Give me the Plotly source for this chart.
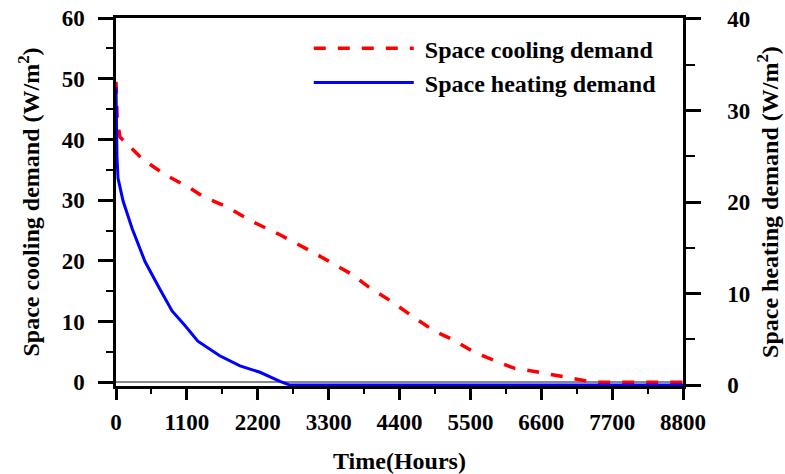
import plotly.graph_objects as go

# Data
hours_cool = [0, 20, 62, 420, 760, 1040, 1150, 1350, 1650, 1740, 2110, 2545, 3060, 3430,
              3660, 3910, 4280, 4610, 4950, 5215, 5570, 5990, 6190, 6500, 6735, 6940,
              7170, 7390, 7600, 8800]
cool = [49.5, 43, 40.4, 36.7, 34.2, 32.6, 32, 30.6, 29.3, 28.8, 26.5, 24.3, 21.4, 19.1,
        17.8, 15.8, 13.3, 10.8, 8.4, 7.1, 4.9, 3.1, 2.3, 1.8, 1.3, 1.0,
        0.5, 0.05, 0, 0]

hours_heat = [0, 5, 15, 31, 110, 250, 450, 680, 870, 1070, 1270, 1610, 1925, 2235, 2545, 2700, 8800]
heat = [32.5, 28.5, 25, 22.6, 20.1, 17.1, 13.5, 10.5, 8.1, 6.5, 4.8, 3.2, 2.1, 1.4, 0.4, 0, 0]

x_ticks = [0, 1100, 2200, 3300, 4400, 5500, 6600, 7700, 8800]
y_left_ticks = [0, 10, 20, 30, 40, 50, 60]
y_right_ticks = [0, 10, 20, 30, 40]

FONT = "Liberation Serif"
tickfont = dict(family=FONT, size=23, color="black", weight="bold")
titlefont = dict(family=FONT, size=24, color="black", weight="bold")
NB = "\u00a0"

fig = go.Figure()
fig.add_trace(go.Scatter(
    x=hours_cool, y=cool, mode="lines", name=NB + "Space cooling demand",
    line=dict(color="#ff0000", width=3.5, dash="12px,12px"),
))
fig.add_trace(go.Scatter(
    x=hours_heat, y=heat, mode="lines", name=NB + "Space heating demand",
    yaxis="y2",
    line=dict(color="#0000ff", width=3),
))

fig.update_layout(
    width=785, height=474,
    margin=dict(l=116, r=102, t=18, b=88, autoexpand=False),
    paper_bgcolor="white", plot_bgcolor="white",
    showlegend=True,
    legend=dict(
        x=0.340, y=0.978, xanchor="left", yanchor="top",
        bgcolor="rgba(0,0,0,0)", itemwidth=100,
        font=dict(family=FONT, size=24, color="black", weight="bold"),
    ),
    xaxis=dict(
        range=[0, 8800], tickvals=x_ticks, ticktext=[str(v) for v in x_ticks],
        ticks="outside", ticklen=11, tickwidth=2.5, tickcolor="black",
        minor=dict(dtick=550, tick0=0, ticks="outside", ticklen=5, tickwidth=2, tickcolor="black"),
        showline=True, linecolor="black", linewidth=2.5, mirror=True,
        showgrid=False, zeroline=False, automargin=False,
        tickfont=tickfont, ticklabelstandoff=3,
        title=dict(text="Time(Hours)", font=titlefont, standoff=20),
    ),
    yaxis=dict(
        range=[-0.6, 60], tickvals=y_left_ticks,
        ticks="outside", ticklen=15, tickwidth=2.5, tickcolor="black",
        minor=dict(dtick=5, tick0=0, ticks="outside", ticklen=7, tickwidth=2, tickcolor="black"),
        showline=True, linecolor="black", linewidth=2.5,
        showgrid=False, zeroline=True, zerolinecolor="#888888", zerolinewidth=2,
        automargin=False,
        tickfont=tickfont, ticklabelstandoff=9,
        title=dict(text="Space cooling demand (W/m<sup>2</sup>)", font=titlefont, standoff=16),
    ),
    yaxis2=dict(
        overlaying="y", side="right",
        range=[-0.1, 40.1], tickvals=y_right_ticks,
        ticks="outside", ticklen=15, tickwidth=2.5, tickcolor="black",
        minor=dict(dtick=5, tick0=0, ticks="outside", ticklen=9, tickwidth=2, tickcolor="black"),
        showline=True, linecolor="black", linewidth=2.5,
        showgrid=False, zeroline=False, automargin=False,
        tickfont=tickfont, ticklabelstandoff=22,
        title=dict(text="Space heating demand (W/m<sup>2</sup>)", font=titlefont, standoff=12),
    ),
)

fig.write_html("out.html")
